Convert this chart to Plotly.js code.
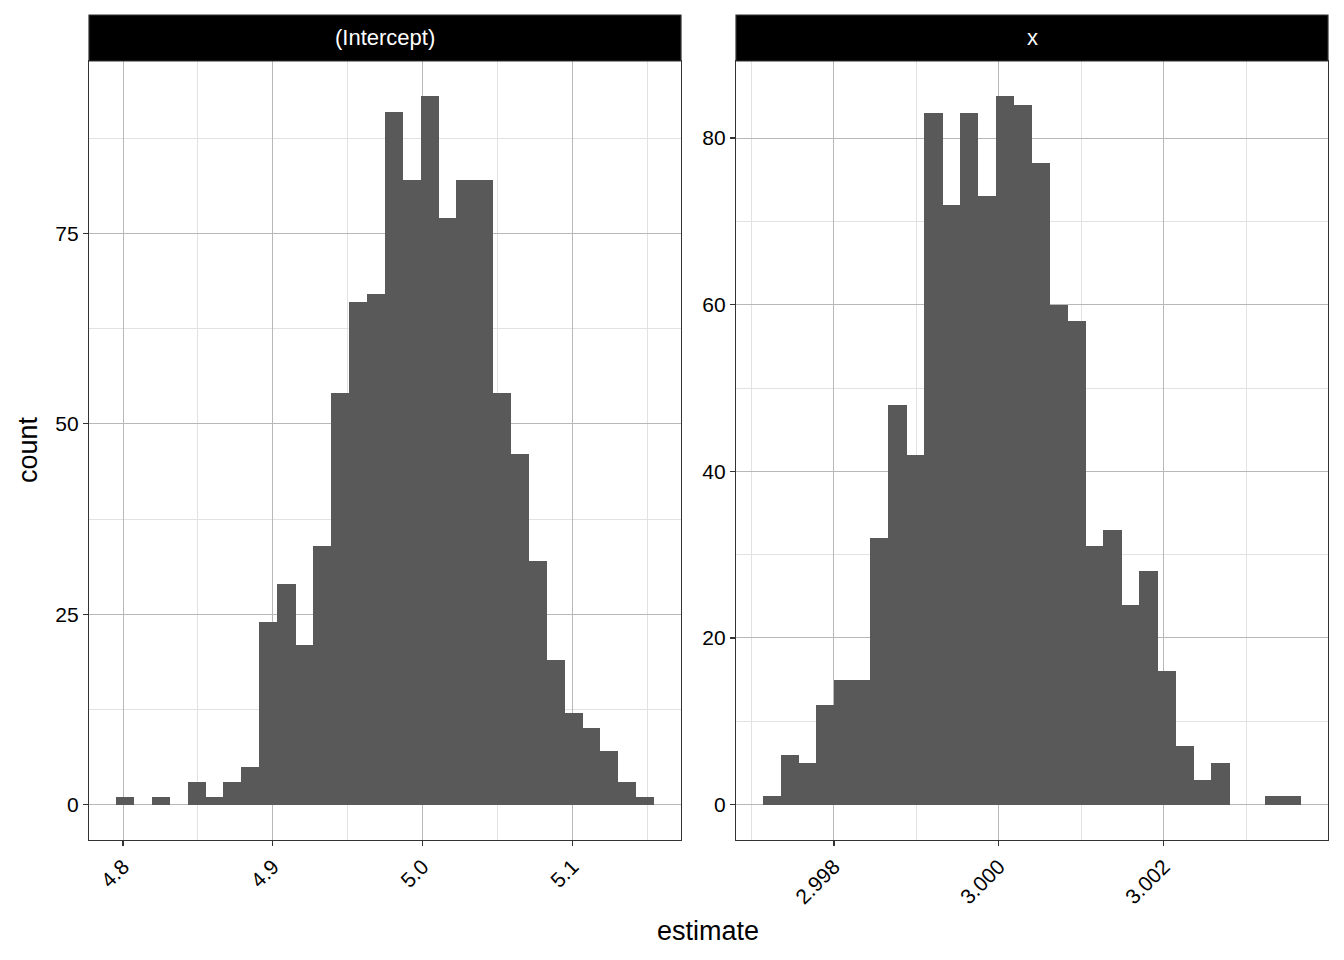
<!DOCTYPE html>
<html><head><meta charset="utf-8">
<script src="https://cdn.plot.ly/plotly-3.0.1.min.js"></script>
<style>body{margin:0;background:#fff;}</style>
</head><body><div id="chart" style="width:1344px;height:960px;"></div>
<script>
// Facet labels
const facetLabels = ["(Intercept)", "x"];

// (Intercept) histogram: bin centres and counts
const interceptBins = [4.8013, 4.8133, 4.8252, 4.8372, 4.8492, 4.8611, 4.8731, 4.8851, 4.8971, 4.9090,
  4.9210, 4.9330, 4.9449, 4.9569, 4.9689, 4.9809, 4.9928, 5.0048, 5.0168, 5.0287,
  5.0407, 5.0527, 5.0646, 5.0766, 5.0886, 5.1006, 5.1125, 5.1245, 5.1365, 5.1484];
const interceptCounts = [1, 0, 1, 0, 3, 1, 3, 5, 24, 29,
  21, 34, 54, 66, 67, 91, 82, 93, 77, 82,
  82, 54, 46, 32, 19, 12, 10, 7, 3, 1];
const interceptBinWidth = 0.01197;

// x histogram: bin centres and counts
const slopeBins = [2.997248, 2.997465, 2.997683, 2.997900, 2.998118, 2.998335, 2.998553, 2.998770, 2.998988, 2.999205,
  2.999423, 2.999640, 2.999858, 3.000075, 3.000293, 3.000510, 3.000728, 3.000945, 3.001163, 3.001380,
  3.001598, 3.001815, 3.002033, 3.002250, 3.002468, 3.002685, 3.002903, 3.003120, 3.003338, 3.003555];
const slopeCounts = [1, 6, 5, 12, 15, 15, 32, 48, 42, 83,
  72, 83, 73, 85, 84, 77, 60, 58, 31, 33,
  24, 28, 16, 7, 3, 5, 0, 0, 1, 1];
const slopeBinWidth = 0.0002175;

// Ticks
const interceptXTicks = [4.8, 4.9, 5.0, 5.1];
const interceptXMinor = [4.85, 4.95, 5.05, 5.15];
const interceptYTicks = [0, 25, 50, 75];
const interceptYMinor = [12.5, 37.5, 62.5, 87.5];
const slopeXTicks = [2.998, 3.000, 3.002];
const slopeXMinor = [2.997, 2.999, 3.001, 3.003];
const slopeYTicks = [0, 20, 40, 60, 80];
const slopeYMinor = [10, 30, 50, 70];

const FONT = "Liberation Sans, Arial, Helvetica, sans-serif";
const barColor = "#595959";
const overlap = 1.03; // slight overlap of adjacent bins to avoid antialiasing seams

const traces = [
  {type: "bar", x: interceptBins, y: interceptCounts, width: interceptBinWidth * overlap,
   marker: {color: barColor, line: {width: 0}}, xaxis: "x", yaxis: "y", hoverinfo: "x+y"},
  {type: "bar", x: slopeBins, y: slopeCounts, width: slopeBinWidth * overlap,
   marker: {color: barColor, line: {width: 0}}, xaxis: "x2", yaxis: "y2", hoverinfo: "x+y"}
];

const dx1 = [89/1344, 681/1344];
const dx2 = [736/1344, 1328/1344];
const dy = [1 - 840/960, 1 - 61/960];
const stripTop = 1 - 15/960;

function axisBase(extra) {
  return Object.assign({
    showline: true, mirror: true, linecolor: "#333333", linewidth: 1.2,
    ticks: "outside", ticklen: 5, tickwidth: 1.2, tickcolor: "#333333",
    zeroline: false, showgrid: true, gridcolor: "#b8b8b8", gridwidth: 1,
    tickfont: {family: FONT, size: 21, color: "#000000"},
    tickmode: "array", automargin: false, fixedrange: true
  }, extra);
}
function minor(vals) {
  return {tickmode: "array", tickvals: vals, showgrid: true, gridcolor: "#e2e2e2", gridwidth: 1, ticks: ""};
}

const layout = {
  width: 1344, height: 960,
  margin: {l: 0, r: 0, t: 0, b: 0},
  paper_bgcolor: "#ffffff", plot_bgcolor: "#ffffff",
  showlegend: false, bargap: 0, barmode: "overlay",
  font: {family: FONT, color: "#000000"},
  xaxis: axisBase({domain: dx1, anchor: "y", range: [4.7773, 5.1724],
    tickvals: interceptXTicks, ticktext: interceptXTicks.map(v => v.toFixed(1)), tickangle: -45,
    minor: minor(interceptXMinor)}),
  yaxis: axisBase({domain: dy, anchor: "x", range: [-4.65, 97.65],
    tickvals: interceptYTicks, ticktext: interceptYTicks.map(String), minor: minor(interceptYMinor)}),
  xaxis2: axisBase({domain: dx2, anchor: "y2", range: [2.996813, 3.003991],
    tickvals: slopeXTicks, ticktext: slopeXTicks.map(v => v.toFixed(3)), tickangle: -45,
    minor: minor(slopeXMinor)}),
  yaxis2: axisBase({domain: dy, anchor: "x2", range: [-4.25, 89.25],
    tickvals: slopeYTicks, ticktext: slopeYTicks.map(String), minor: minor(slopeYMinor)}),
  shapes: [
    {type: "rect", xref: "paper", yref: "paper", x0: dx1[0], x1: dx1[1], y0: dy[1], y1: stripTop,
     fillcolor: "#000000", line: {color: "#333333", width: 1.2}},
    {type: "rect", xref: "paper", yref: "paper", x0: dx2[0], x1: dx2[1], y0: dy[1], y1: stripTop,
     fillcolor: "#000000", line: {color: "#333333", width: 1.2}}
  ],
  annotations: [
    {text: facetLabels[0], xref: "paper", yref: "paper", x: (dx1[0]+dx1[1])/2, y: (dy[1]+stripTop)/2,
     xanchor: "center", yanchor: "middle", showarrow: false, font: {family: FONT, size: 22, color: "#ffffff"}},
    {text: facetLabels[1], xref: "paper", yref: "paper", x: (dx2[0]+dx2[1])/2, y: (dy[1]+stripTop)/2,
     xanchor: "center", yanchor: "middle", showarrow: false, font: {family: FONT, size: 22, color: "#ffffff"}},
    {text: "count", xref: "paper", yref: "paper", x: 28/1344, y: 1 - 450/960, textangle: -90,
     xanchor: "center", yanchor: "middle", showarrow: false, font: {family: FONT, size: 27, color: "#000000"}},
    {text: "estimate", xref: "paper", yref: "paper", x: 708/1344, y: 1 - 931/960,
     xanchor: "center", yanchor: "middle", showarrow: false, font: {family: FONT, size: 27, color: "#000000"}}
  ]
};

Plotly.newPlot("chart", traces, layout, {displayModeBar: false, staticPlot: true});
</script>
</body></html>
